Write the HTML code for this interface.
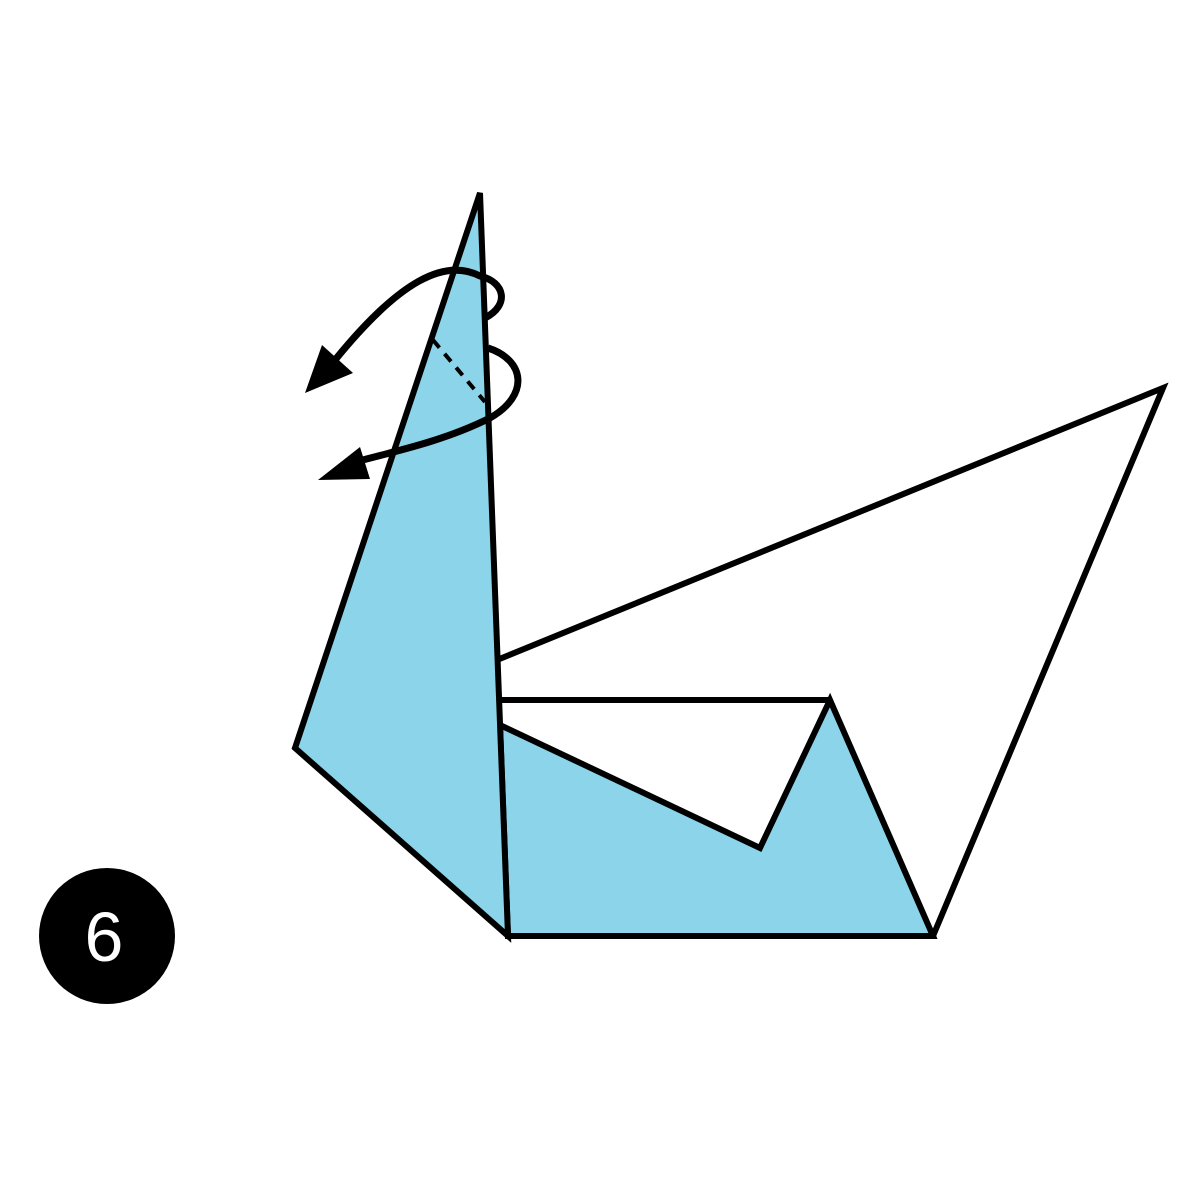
<!DOCTYPE html>
<html><head><style>body{margin:0;background:#fff}svg{display:block}</style></head>
<body>
<svg width="1200" height="1200" viewBox="0 0 1200 1200">
<polygon points="497,660 1163,388 933,936 508,936" fill="#fff" stroke="#000" stroke-width="6"/>
<polyline points="497,700 830,700" fill="none" stroke="#000" stroke-width="6"/>
<polygon points="500,725 760,848 830,700 933,936 508,936" fill="#8bd4ea" stroke="#000" stroke-width="6"/>
<polygon points="480,193 295,748 508,936" fill="#8bd4ea" stroke="#000" stroke-width="6"/>
<line x1="433" y1="340" x2="485" y2="402" stroke="#000" stroke-width="4" stroke-dasharray="10,8"/>
<path d="M485,318 C510,305 505,282 480,276 C445,258 400,280 335,360" fill="none" stroke="#000" stroke-width="7"/>
<polygon points="305,393 322,345 353,373" fill="#000"/>
<path d="M488,348 C525,360 530,395 490,418 C450,438 410,448 355,462" fill="none" stroke="#000" stroke-width="7"/>
<polygon points="318,480 360,447 370,479" fill="#000"/>
<circle cx="107" cy="936" r="68" fill="#000"/>
<text x="104" y="961" text-anchor="middle" font-family="Liberation Sans, sans-serif" font-size="70" fill="#fff">6</text>
</svg>
</body></html>
